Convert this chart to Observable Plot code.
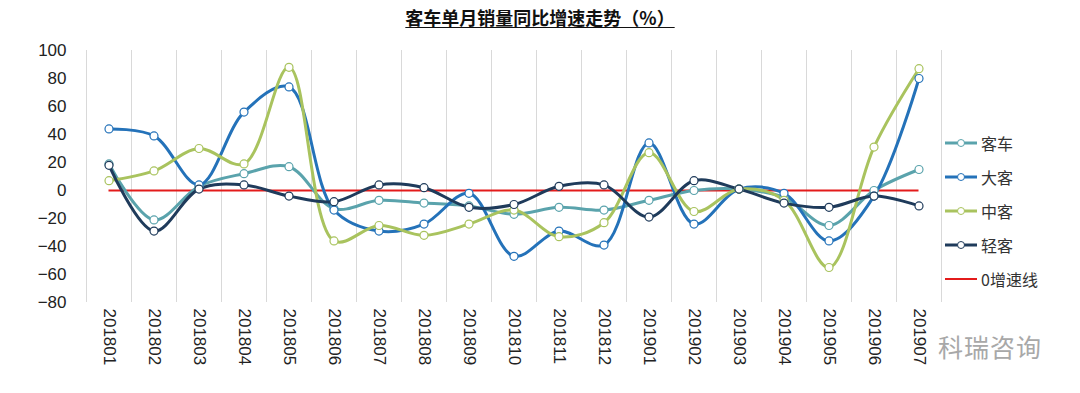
<!DOCTYPE html>
<html>
<head>
<meta charset="utf-8">
<script src="https://cdn.jsdelivr.net/npm/d3@7"></script>
<script src="https://cdn.jsdelivr.net/npm/@observablehq/plot@0.6"></script>
<style>
  html, body { margin: 0; padding: 0; background: #fff; }
  #wrap { position: relative; width: 1080px; height: 393px; overflow: hidden; font-family: "Noto Sans CJK SC", "Noto Sans", sans-serif; }
  #title { height: 36px; text-align: center; font-size: 18px; font-weight: bold; line-height: 34px; color: #111; }
  #title span { text-decoration: underline; text-underline-offset: 2px; }
  #legend { position: absolute; left: 944px; top: 126px; font-size: 16px; color: #333; }
  .item { height: 34px; display: flex; align-items: center; }
  .item svg { margin-right: 3px; }
  #wm { position: absolute; left: 938px; top: 328px; font-size: 25px; color: #a8a8a8; letter-spacing: 1px; }
</style>
</head>
<body>
<div id="wrap">
  <div id="title"><span>客车单月销量同比增速走势（%）</span></div>
  <div id="chart"></div>
  <div id="legend"></div>
  <div id="wm">科瑞咨询</div>
</div>
<script>
const months = ["201801","201802","201803","201804","201805","201806","201807","201808","201809","201810","201811","201812","201901","201902","201903","201904","201905","201906","201907"];
const seriesNames = ["客车","大客","中客","轻客"];
const keche   = [19, -21, 3, 12, 17, -13, -7, -9, -11, -17, -12, -14, -7, 0, 1, -5, -25, 0, 15];
const dake    = [44, 39, 4, 56, 74, -14, -29, -24, -2, -47, -29, -39, 34, -24, 1, -2, -36, -4, 80];
const zhongke = [7, 14, 30, 19, 88, -36, -25, -32, -24, -14, -33, -23, 27, -15, 1, -7, -55, 31, 87];
const qingke  = [18, -29, 1, 4, -4, -8, 4, 2, -12, -10, 3, 4, -19, 7, 1, -9, -12, -4, -11];
const zeroLineName = "0增速线";
const yTicks = [-80, -60, -40, -20, 0, 20, 40, 60, 80, 100];
const colors = ["#5aa3ac", "#2472b9", "#a9c35e", "#1f3b5b"];
const zeroColor = "#e31b1b";

const seriesValues = [keche, dake, zhongke, qingke];
const data = [];
seriesNames.forEach((s, k) => seriesValues[k].forEach((v, i) => data.push({series: s, i, value: v})));
const idx = months.map((m, i) => i);
const edges = d3.range(-0.5, months.length, 1);

const chart = Plot.plot({
  width: 1080,
  height: 357,
  marginLeft: 86,
  marginRight: 139,
  marginTop: 14,
  marginBottom: 91,
  style: {fontFamily: "'Liberation Sans', Arial, sans-serif", fontSize: "17px", color: "#222", background: "transparent"},
  x: {type: "linear", domain: [-0.5, months.length - 0.5]},
  y: {domain: [-80, 100]},
  color: {domain: seriesNames, range: colors},
  marks: [
    Plot.ruleX(edges, {stroke: "#d9d9d9", strokeWidth: 1}),
    Plot.ruleY([0], {x1: () => 0, x2: () => months.length - 1, stroke: zeroColor, strokeWidth: 2.2}),
    Plot.line(data, {x: "i", y: "value", z: "series", stroke: "series", strokeWidth: 3, curve: "catmull-rom"}),
    Plot.dot(data, {x: "i", y: "value", stroke: "series", fill: "white", r: 4, strokeWidth: 1.2}),
    Plot.axisY({ticks: yTicks, tickSize: 0, tickPadding: 20, label: null, fontSize: 17}),
    Plot.axisX({ticks: idx, tickFormat: i => months[i], tickSize: 0, tickPadding: 6, tickRotate: 90, label: null, fontSize: 17})
  ]
});
document.getElementById("chart").appendChild(chart);

const legend = document.getElementById("legend");
const legendItems = seriesNames.map((s, k) => ({name: s, color: colors[k], dot: true}))
  .concat([{name: zeroLineName, color: zeroColor, dot: false}]);
legendItems.forEach(it => {
  const div = document.createElement("div");
  div.className = "item";
  div.innerHTML = `<svg width="34" height="12"><line x1="1" x2="33" y1="6" y2="6" stroke="${it.color}" stroke-width="${it.dot ? 3 : 2}"/>` +
    (it.dot ? `<circle cx="17" cy="6" r="3.5" fill="white" stroke="${it.color}" stroke-width="1"/>` : "") +
    `</svg><span>${it.name}</span>`;
  legend.appendChild(div);
});
</script>
</body>
</html>
